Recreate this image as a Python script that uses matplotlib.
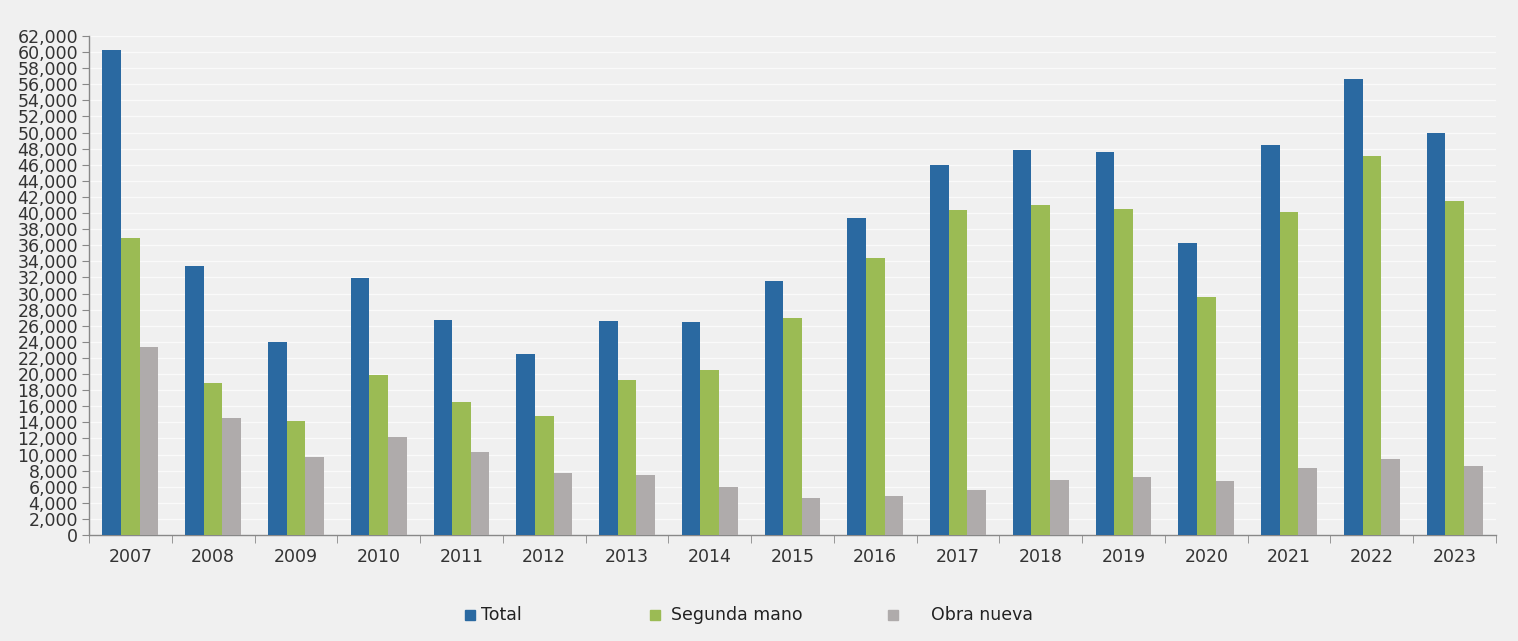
import matplotlib
matplotlib.use("Agg")
import matplotlib.pyplot as plt
import numpy as np
from matplotlib.ticker import FuncFormatter, MultipleLocator, FixedLocator
from matplotlib.patches import Rectangle

years = ["2007", "2008", "2009", "2010", "2011", "2012", "2013", "2014", "2015",
         "2016", "2017", "2018", "2019", "2020", "2021", "2022", "2023"]
total = [60200, 33400, 23950, 31950, 26700, 22500, 26600, 26450, 31550,
         39400, 46000, 47850, 47600, 36300, 48450, 56650, 49950]
segunda = [36900, 18900, 14150, 19900, 16500, 14800, 19250, 20500, 26950,
           34400, 40400, 41000, 40500, 29550, 40150, 47100, 41500]
obra = [23350, 14550, 9700, 12150, 10300, 7700, 7450, 5950, 4600,
        4850, 5600, 6850, 7200, 6700, 8350, 9450, 8550]
labels = ["Total", "Segunda mano", "Obra nueva"]
colors = ["#2a69a1", "#9bbb54", "#afabab"]

W, H = 1518, 641
bg = "#f0f0f0"
fig = plt.figure(figsize=(W/100, H/100), dpi=100, facecolor=bg)
ax = fig.add_axes([89/W, 1-535/H, (1496-89)/W, (535-36)/H])
ax.set_facecolor(bg)

x = np.arange(len(years))
w = 0.225
series = [total, segunda, obra]
for i, (s, c) in enumerate(zip(series, colors)):
    ax.bar(x + (i-1)*w, s, width=w, color=c, label=labels[i], zorder=3)

ax.set_xlim(-0.5, len(years)-0.5)
ax.set_ylim(0, 62000)
ax.yaxis.set_major_locator(MultipleLocator(2000))
ax.yaxis.set_major_formatter(FuncFormatter(lambda v, p: f"{int(v):,}"))
ax.grid(axis="y", color="#fafafa", linewidth=1.0, zorder=0)
ax.set_xticks(x)
ax.set_xticklabels(years)
ax.xaxis.set_minor_locator(FixedLocator(np.arange(-0.5, len(years), 1)))
ax.tick_params(axis="x", which="major", length=0, pad=9, labelsize=12.5, labelcolor="#333333")
ax.tick_params(axis="x", which="minor", length=6, color="#888888", direction="out")
ax.tick_params(axis="y", length=5, color="#888888", labelsize=12.5, labelcolor="#333333", pad=3)
for t in ax.get_xticklabels() + ax.get_yticklabels():
    t.set_fontfamily("DejaVu Sans")
for sp in ["top", "right"]:
    ax.spines[sp].set_visible(False)
for sp in ["left", "bottom"]:
    ax.spines[sp].set_color("#888888")
    ax.spines[sp].set_linewidth(1)

# legend items placed individually
leg_y = 615
items = [(465, 481), (650, 671), (888, 931)]
for (mx, tx), lab, c in zip(items, labels, colors):
    fig.patches.append(Rectangle((mx/W, 1-(leg_y+5)/H), 10/W, 10/H,
                                 transform=fig.transFigure, color=c, figure=fig))
    fig.text(tx/W, 1-leg_y/H, lab, ha="left", va="center", fontsize=12.5, color="#222222")

fig.savefig("out.png", dpi=100, facecolor=bg)
